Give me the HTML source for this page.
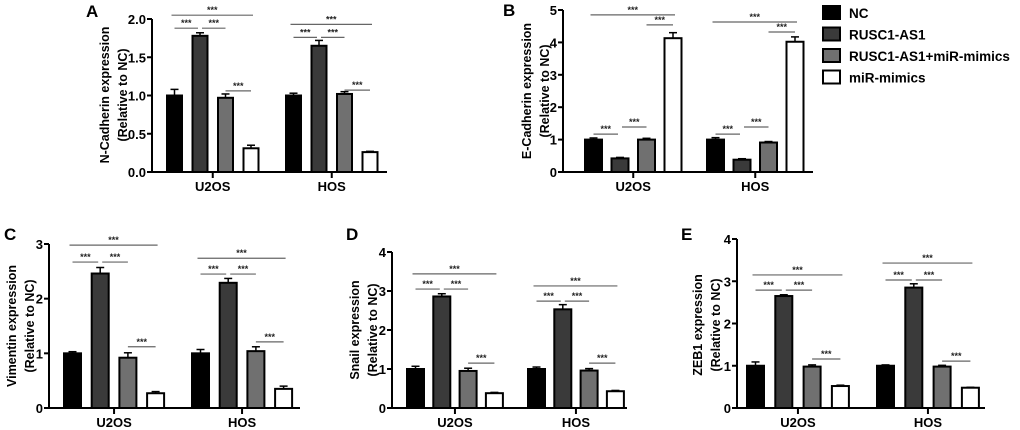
<!DOCTYPE html>
<html><head><meta charset="utf-8"><style>
body{margin:0;background:#fff}
svg{display:block;font-family:"Liberation Sans",Arial,sans-serif}
</style></head><body>
<svg id="fig" width="1020" height="430" viewBox="0 0 1020 430"></svg>
<script>
const groups=["U2OS","HOS"];
const seriesNames=["NC","RUSC1-AS1","RUSC1-AS1+miR-mimics","miR-mimics"];
const fills=["#000","#3a3a3a","#707070","#fff"];
// Panel A
const aU2OS=[1.0,1.78,0.97,0.31], aU2OSErr=[0.08,0.04,0.05,0.04];
const aHOS=[1.0,1.65,1.02,0.26], aHOSErr=[0.03,0.07,0.03,0.01];
const aTicks=["0.0","0.5","1.0","1.5","2.0"];
const aSig=[[2.05,1.88,1.06],[1.93,1.76,1.07]];
// Panel B
const bU2OS=[1.0,0.42,1.0,4.13], bU2OSErr=[0.05,0.03,0.04,0.17];
const bHOS=[1.0,0.38,0.91,4.02], bHOSErr=[0.06,0.03,0.03,0.15];
const bTicks=["0","1","2","3","4","5"];
const bSig=[[4.85,1.17,1.39,4.54],[4.63,1.17,1.39,4.32]];
// Panel C
const cU2OS=[1.0,2.46,0.92,0.27], cU2OSErr=[0.03,0.11,0.09,0.03];
const cHOS=[1.0,2.29,1.04,0.35], cHOSErr=[0.07,0.08,0.08,0.05];
const cTicks=["0","1","2","3"];
const cSig=[[2.98,2.67,1.12],[2.74,2.45,1.21]];
// Panel D
const dU2OS=[1.0,2.86,0.95,0.38], dU2OSErr=[0.07,0.07,0.07,0.02];
const dHOS=[1.0,2.53,0.96,0.43], dHOSErr=[0.05,0.12,0.05,0.02];
const dTicks=["0","1","2","3","4"];
const dSig=[[3.44,3.05,1.15],[3.13,2.74,1.15]];
// Panel E
const eU2OS=[1.0,2.65,0.98,0.52], eU2OSErr=[0.09,0.03,0.04,0.02];
const eHOS=[1.0,2.85,0.98,0.48], eHOSErr=[0.02,0.09,0.03,0.01];
const eTicks=["0","1","2","3","4"];
const eSig=[[3.15,2.79,1.16],[3.43,3.03,1.11]];

const NS="http://www.w3.org/2000/svg";
const svg=document.getElementById('fig');
function mk(tag,attrs,parent){const e=document.createElementNS(NS,tag);for(const k in attrs)e.setAttribute(k,attrs[k]);(parent||svg).appendChild(e);return e;}

function panel(p){
  const g=mk('g',{});
  
  
  const max=parseFloat(p.ticks[p.ticks.length-1]);
  const yS=v=>p.y0-(v/max)*(p.y0-p.yTop);
  const lt=mk('text',{x:p.lx,y:p.ly,'font-size':17,'font-weight':'bold'},g);lt.textContent=p.letter;
  
  
  const ya=mk('line',{x1:p.ax,y1:p.yTop,x2:p.ax,y2:p.y0+1,stroke:'#000','stroke-width':2},g);
  
  
  const xa=mk('line',{x1:p.ax-1,y1:p.y0,x2:p.end,y2:p.y0,stroke:'#000','stroke-width':2},g);
  
  
  p.ticks.forEach((t,i)=>{
    const v=parseFloat(t);const y=yS(v);
    mk('line',{x1:p.ax-5,y1:y,x2:p.ax,y2:y,stroke:'#000','stroke-width':2},g);
    const tx=mk('text',{x:p.ax-6,y:y+5,'font-size':13,'font-weight':'bold','text-anchor':'end'},g);tx.textContent=t;
    
    
  });
  const tg=mk('text',{'font-size':12.5,'font-weight':'bold','text-anchor':'middle',transform:`translate(${p.tx},${p.tc}) rotate(-90)`},g);
  
  
  const t1=mk('tspan',{x:0,y:0},tg);t1.textContent=p.title;
  const t2=mk('tspan',{x:0,y:18},tg);t2.textContent='(Relative to NC)';
  const data=[[p.u,p.ue],[p.h,p.he]];
  data.forEach((d,gi)=>{
    const start=p.starts[gi];
    const cx=i=>start+i*p.sp+p.w/2;
    d[0].forEach((v,i)=>{
      const x=start+i*p.sp, y=yS(v), ye=yS(v+d[1][i]);
      mk('line',{x1:x+p.w/2,y1:ye,x2:x+p.w/2,y2:y,stroke:'#000','stroke-width':1.5},g);
      mk('line',{x1:x+p.w/2-4,y1:ye,x2:x+p.w/2+4,y2:ye,stroke:'#000','stroke-width':1.5},g);
      const r=mk('rect',{x:x,y:y,width:p.w,height:p.y0-y,fill:fills[i],stroke:'#000','stroke-width':2},g);
      
      
    });
    const c=(start+start+3*p.sp+p.w)/2;
    mk('line',{x1:c,y1:p.y0,x2:c,y2:p.y0+6,stroke:'#000','stroke-width':2},g);
    const gl=mk('text',{x:c,y:p.y0+19,'font-size':13,'font-weight':'bold','text-anchor':'middle'},g);gl.textContent=groups[gi];
    
    
    const s=p.sig[gi];
    let pairs;
    if(s.length===3) pairs=[[0,3,s[0]],[0,1,s[1]],[1,2,s[1]],[2,3,s[2]]];
    else pairs=[[0,3,s[0]],[0,1,s[1]],[1,2,s[2]],[2,3,s[3]]];
    pairs.forEach(([a,b,v])=>{
      const y=yS(v);const x1=cx(a)-(a===0&&b===3?3:0)+ (b-a===1&&a===1?2:0), x2=cx(b)+(b-a===1&&b===1?-2:0)+(a===0&&b===3?2:0);
      const ln=mk('line',{x1:x1,y1:y,x2:x2,y2:y,stroke:'#666','stroke-width':1.2},g);
      
      
      const st=mk('text',{x:(x1+x2)/2,y:y-2,'font-size':9,'font-weight':'bold','text-anchor':'middle',fill:'#222'},g);st.textContent='***';
      
      
    });
  });
}
panel({letter:'A',lx:86,ly:17,ax:152,y0:172,yTop:19,end:387,ticks:aTicks,starts:[167,286],sp:25.5,w:15,u:aU2OS,ue:aU2OSErr,h:aHOS,he:aHOSErr,sig:aSig,title:'N-Cadherin expression',tx:109,tc:95});
panel({letter:'B',lx:503,ly:16,ax:563,y0:172,yTop:10,end:813,ticks:bTicks,starts:[585,707],sp:26.5,w:17,u:bU2OS,ue:bU2OSErr,h:bHOS,he:bHOSErr,sig:bSig,title:'E-Cadherin expression',tx:531,tc:91});
panel({letter:'C',lx:4,ly:240,ax:49,y0:408,yTop:244,end:300,ticks:cTicks,starts:[64,192],sp:27.7,w:17,u:cU2OS,ue:cU2OSErr,h:cHOS,he:cHOSErr,sig:cSig,title:'Vimentin expression',tx:16,tc:326});
panel({letter:'D',lx:346,ly:240,ax:392,y0:408,yTop:252,end:627,ticks:dTicks,starts:[407,528],sp:26.3,w:17,u:dU2OS,ue:dU2OSErr,h:dHOS,he:dHOSErr,sig:dSig,title:'Snail expression',tx:359,tc:330});
panel({letter:'E',lx:681,ly:240,ax:737,y0:408,yTop:239,end:985,ticks:eTicks,starts:[747,877],sp:28.3,w:17,u:eU2OS,ue:eU2OSErr,h:eHOS,he:eHOSErr,sig:eSig,title:'ZEB1 expression',tx:702,tc:325});
const lg=mk('g',{});


seriesNames.forEach((n,i)=>{
  const y=6+i*21.5;
  const r=mk('rect',{x:823,y:y,width:17,height:13,fill:fills[i],stroke:'#000','stroke-width':2},lg);
  
  
  const t=mk('text',{x:849,y:y+12,'font-size':13.5,'font-weight':'bold'},lg);t.textContent=n;
  
  
});
</script>
</body></html>
